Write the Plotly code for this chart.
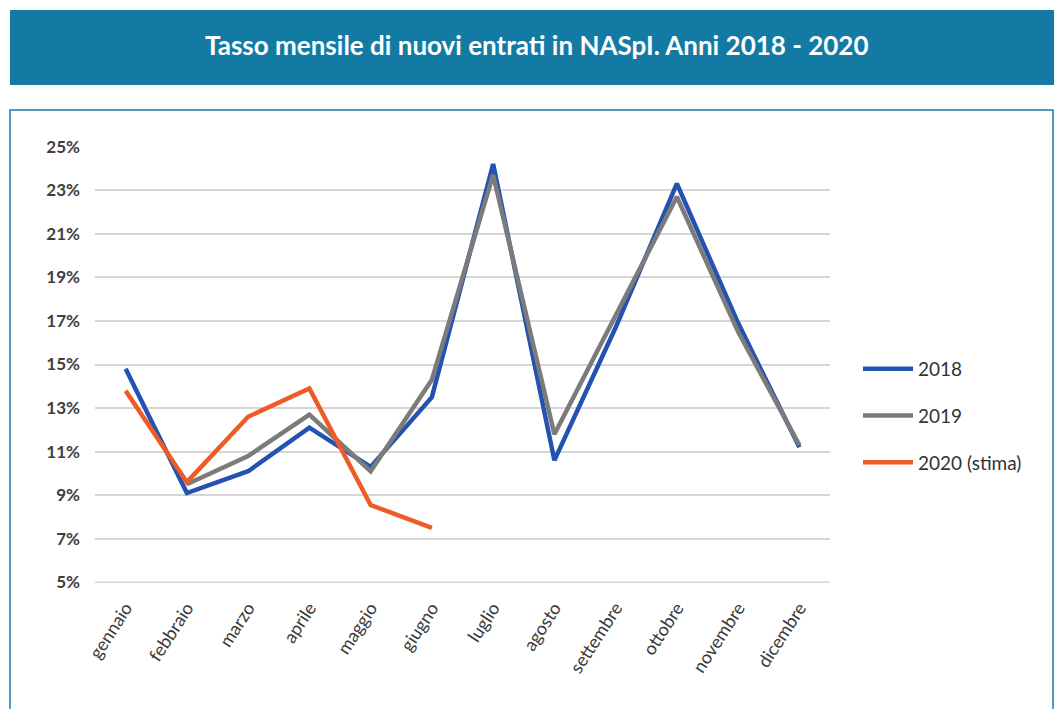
import plotly.graph_objects as go

mesi = ["gennaio", "febbraio", "marzo", "aprile", "maggio", "giugno",
        "luglio", "agosto", "settembre", "ottobre", "novembre", "dicembre"]

anno_2018 = [14.8, 9.1, 10.1, 12.1, 10.3, 13.5, 24.2, 10.6, 16.7, 23.3, 16.9, 11.2]
anno_2019 = [None, 9.5, 10.8, 12.7, 10.1, 14.3, 23.7, 11.8, 17.2, 22.7, 16.5, 11.3]
anno_2020 = [13.8, 9.6, 12.6, 13.9, 8.55, 7.5, None, None, None, None, None, None]

y_ticks = [5, 7, 9, 11, 13, 15, 17, 19, 21, 23, 25]

W, H = 1054, 709
L, R, T, B = 95, 830, 146, 583  # plot area in pixels


def px_x(p):
    return (p - L) / (R - L)


def px_y(p):
    return (B - p) / (B - T)


series = [
    ("2018", anno_2018, "#2352b0"),
    ("2019", anno_2019, "#7b7b7b"),
    ("2020 (stima)", anno_2020, "#ef5b25"),
]

fig = go.Figure()
for name, vals, col in series:
    fig.add_trace(go.Scatter(
        x=mesi, y=vals, name=name, mode="lines",
        line=dict(color=col, width=4.5),
        legendgroup=name,
        connectgaps=False,
    ))

# ── Banner + frame + bottom gridline ──────────────────────────────────────
shapes = [
    dict(type="rect", xref="paper", yref="paper",
         x0=px_x(10), x1=px_x(1060), y0=px_y(85), y1=px_y(10),
         fillcolor="#137aa4", line=dict(width=0), layer="below"),
    dict(type="rect", xref="paper", yref="paper",
         x0=px_x(10), x1=px_x(1053), y0=px_y(730), y1=px_y(110),
         fillcolor="rgba(0,0,0,0)", line=dict(color="#1a7aaa", width=1.5),
         layer="below"),
    dict(type="line", xref="paper", yref="y", x0=0, x1=1, y0=y_ticks[0], y1=y_ticks[0],
         line=dict(color="#d6d6d6", width=1.5), layer="below"),
]

fig.update_layout(
    width=W, height=H,
    margin=dict(l=L, r=W - R, t=T, b=H - B),
    paper_bgcolor="white",
    plot_bgcolor="white",
    font=dict(family="Lato, 'Open Sans', sans-serif", color="#333333"),
    shapes=shapes,
    annotations=[dict(
        text="<b>Tasso mensile di nuovi entrati in NASpI. Anni 2018 - 2020</b>",
        xref="paper", yref="paper", x=px_x(537), y=px_y(45),
        xanchor="center", yanchor="middle", showarrow=False,
        font=dict(size=26, color="white", family="Lato, sans-serif"),
    )],
    xaxis=dict(
        type="category", range=[-0.5, 11.5],
        showgrid=False, zeroline=False, showline=False,
        tickangle=-57, ticks="",
        ticklabelstandoff=10,
        tickfont=dict(size=18, color="#3a3a3a"),
    ),
    yaxis=dict(
        range=[4.97, 25.03], tickvals=y_ticks,
        ticktext=[f"{v}%" for v in y_ticks],
        showgrid=True, gridcolor="#d6d6d6", gridwidth=1.5,
        zeroline=False, showline=False, ticks="",
        ticklabelstandoff=14,
        tickfont=dict(size=17, color="#3f3f3f", weight="bold"),
    ),
    showlegend=True,
    legend=dict(
        x=px_x(858), y=px_y(350), xanchor="left", yanchor="top",
        font=dict(size=19, color="#333333"),
        tracegroupgap=19, itemwidth=50,
        bgcolor="rgba(0,0,0,0)",
    ),
)

fig.write_html("out.html", config={"displayModeBar": False},
               post_script="document.body.style.margin='0';")
